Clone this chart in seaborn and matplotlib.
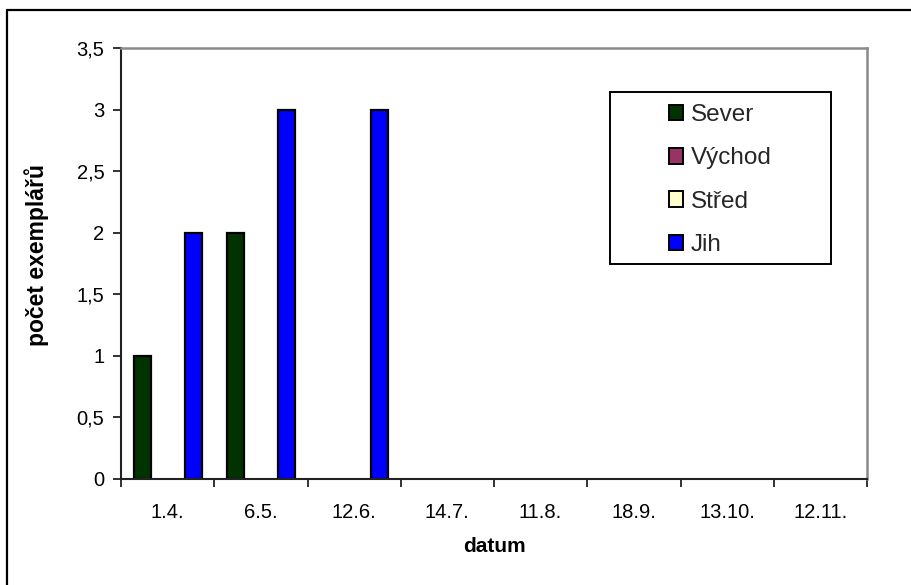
import matplotlib
matplotlib.use("Agg")
import matplotlib.pyplot as plt
from matplotlib.patches import Patch, Rectangle
from matplotlib.lines import Line2D
import seaborn as sns
import pandas as pd

# ---- data ----
categories = ["1.4.", "6.5.", "12.6.", "14.7.", "11.8.", "18.9.", "13.10.", "12.11."]
series_names = ["Sever", "Východ", "Střed", "Jih"]
sever = [1, 2, 0, 0, 0, 0, 0, 0]
vychod = [0, 0, 0, 0, 0, 0, 0, 0]
stred = [0, 0, 0, 0, 0, 0, 0, 0]
jih = [2, 3, 3, 0, 0, 0, 0, 0]
y_ticks = [0, 0.5, 1, 1.5, 2, 2.5, 3, 3.5]
y_tick_labels = ["0", "0,5", "1", "1,5", "2", "2,5", "3", "3,5"]
colors = ["#003300", "#993366", "#FFFFCC", "#0000FF"]
x_label = "datum"
y_label = "počet exemplářů"

values = [sever, vychod, stred, jih]
rows = []
for name, vals in zip(series_names, values):
    for cat, v in zip(categories, vals):
        rows.append({"datum": cat, "řada": name, "počet": v})
df = pd.DataFrame(rows)

sns.set_theme(style="white")
plt.rcParams["font.family"] = ["Liberation Sans", "DejaVu Sans"]

W, H = 911, 585
fig = plt.figure(figsize=(W / 100, H / 100), dpi=100)
L, R, T, B = 121, 867, 48, 479
ax = fig.add_axes([L / W, 1 - B / H, (R - L) / W, (B - T) / H])

sns.barplot(data=df, x="datum", y="počet", hue="řada", order=categories,
            hue_order=series_names, palette=colors, width=0.728, dodge=True,
            edgecolor="black", linewidth=1.6, legend=False, ax=ax,
            saturation=1)

for p in ax.patches:
    if p.get_height() == 0:
        p.set_visible(False)

ax.set_xlim(-0.5, len(categories) - 0.5)
ax.set_ylim(0, 3.5)
ax.set_yticks(y_ticks)
ax.set_yticklabels(y_tick_labels, fontsize=14.5, color="black")
ax.set_xticks(range(len(categories)))
ax.set_xticklabels(categories, fontsize=14.5, color="black")
ax.set_xticks([i - 0.5 for i in range(len(categories) + 1)], minor=True)
ax.tick_params(axis="x", which="major", length=0, pad=17)
ax.tick_params(axis="x", which="minor", length=6, width=1.3, color="#222222", direction="out", bottom=True)
ax.tick_params(axis="y", which="major", length=6, width=1.3, color="#222222", direction="out", left=True, pad=6)

for s in ["left", "bottom"]:
    ax.spines[s].set_color("#222222")
    ax.spines[s].set_linewidth(1.5)
for s in ["top", "right"]:
    ax.spines[s].set_visible(True)
    ax.spines[s].set_color("#8a8a8a")
    ax.spines[s].set_linewidth(1.8)

ax.set_xlabel(x_label, fontsize=15, fontweight="bold", color="black")
ax.set_ylabel(y_label, fontsize=16.5, fontweight="bold", color="black")
ax.xaxis.set_label_coords(0.5, (B - 537) / (B - T))
ax.yaxis.set_label_coords((49 - L) / (R - L), (B - 255) / (B - T))

# legend box and entries
fig.patches.append(Rectangle((610 / W, 1 - 264 / H), (831 - 610) / W, (264 - 92) / H,
                             transform=fig.transFigure, facecolor="white",
                             edgecolor="black", linewidth=1.4, zorder=5))
handles = [Patch(facecolor=c, edgecolor="black", linewidth=1.4) for c in colors]
leg = fig.legend(handles, series_names, loc="center",
                 bbox_to_anchor=(720 / W, 1 - 180 / H), frameon=False,
                 fontsize=17.5, handlelength=0.6, handleheight=0.6,
                 handletextpad=0.3, labelspacing=0.875)
leg.set_zorder(6)

# outer chart frame (left and top edges visible)
fig.add_artist(Line2D([7 / W, 7 / W], [0, 1 - 10 / H], transform=fig.transFigure,
                      color="black", linewidth=1.6))
fig.add_artist(Line2D([7 / W, 1], [1 - 10 / H, 1 - 10 / H], transform=fig.transFigure,
                      color="black", linewidth=1.6))

fig.savefig("out.png", dpi=100)
